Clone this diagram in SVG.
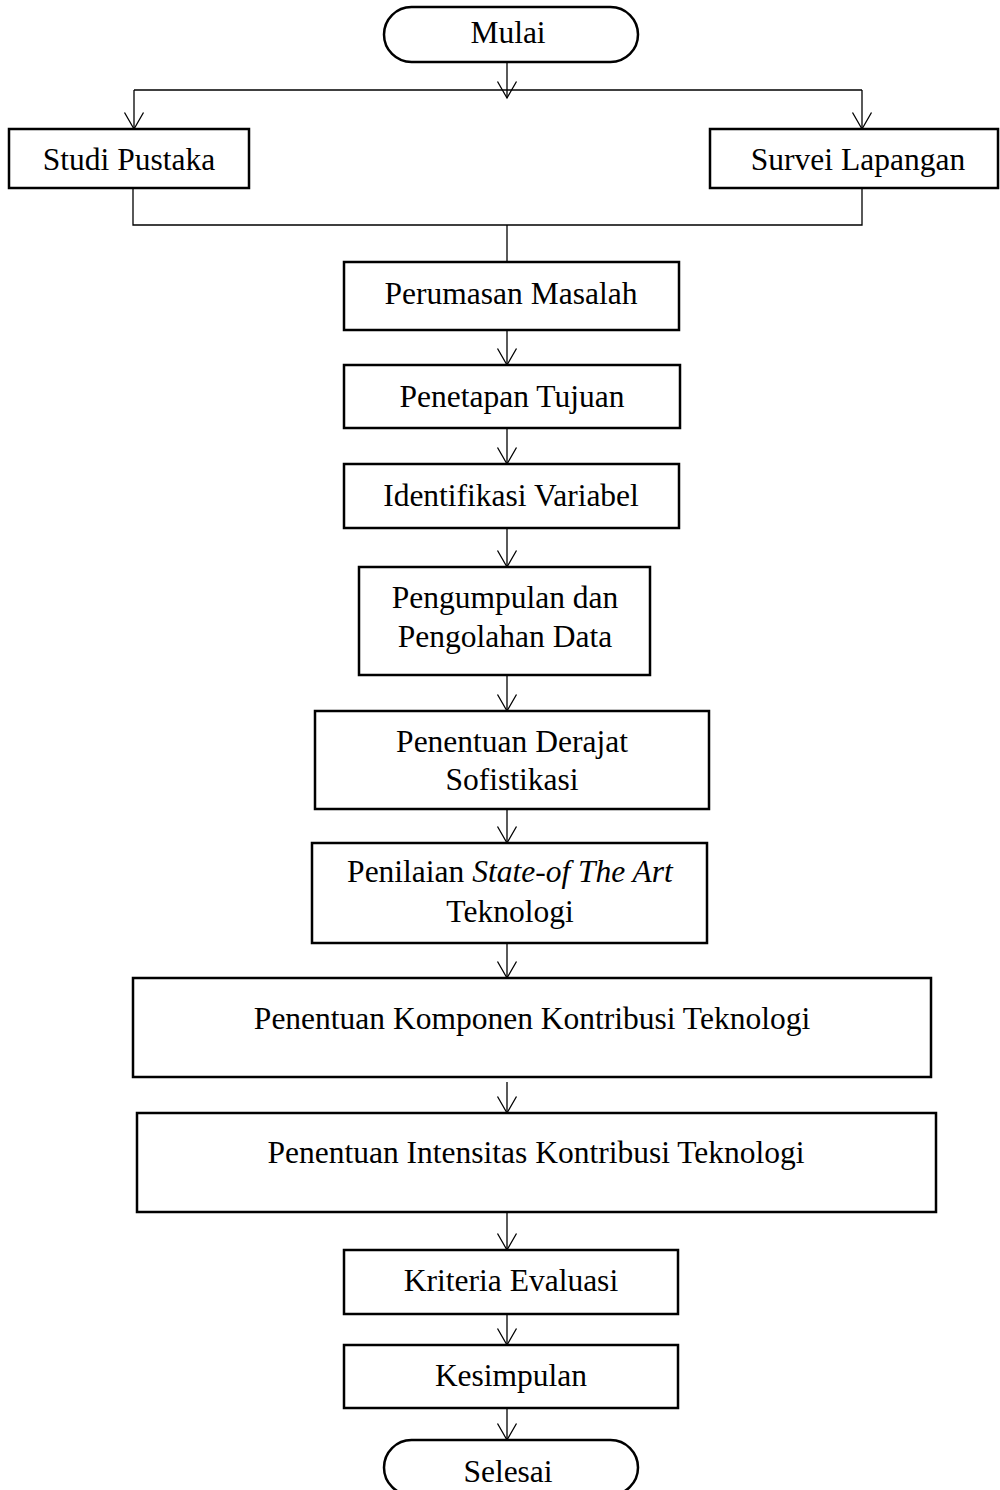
<svg xmlns="http://www.w3.org/2000/svg" width="1000" height="1490" viewBox="0 0 1000 1490">
<style>
.box{fill:#fff;stroke:#000;stroke-width:2.5}
.t{font-family:"Liberation Serif","Times New Roman",serif;font-size:31.5px;fill:#000;text-anchor:middle}
.c{fill:none;stroke:#000;stroke-width:1.3}
.a{fill:none;stroke:#000;stroke-width:1.3;marker-end:url(#arr)}
</style>
<defs>
<marker id="arr" markerUnits="userSpaceOnUse" markerWidth="22" markerHeight="24" viewBox="-2 -2 22 24" refX="16.5" refY="9.5" orient="auto">
<path d="M0,0 L16.5,9.5 L0,19" fill="none" stroke="#000" stroke-width="1.3"/>
</marker>
</defs>
<rect width="1000" height="1490" fill="#fff"/>
<g id="connectors">
<path class="a" d="M507,62 V98"/>
<path class="c" d="M134,90 H862"/>
<path class="a" d="M134,90 V129"/>
<path class="a" d="M862,90 V129"/>
<path class="c" d="M133,188 V225 H862 V188"/>
<path class="c" d="M507,225 V262"/>
<path class="a" d="M507,330 V365"/>
<path class="a" d="M507,428 V464"/>
<path class="a" d="M507,528 V567"/>
<path class="a" d="M507,675 V711"/>
<path class="a" d="M507,809 V843"/>
<path class="a" d="M507,943 V978"/>
<path class="a" d="M507,1082 V1113"/>
<path class="a" d="M507,1212 V1250"/>
<path class="a" d="M507,1308 V1345"/>
<path class="a" d="M507,1405 V1440"/>
</g>
<g id="mulai">
<rect class="box" x="384" y="7" width="254" height="55" rx="27.5"/>
<text class="t" x="508" y="43">Mulai</text>
</g>
<g id="studi-pustaka">
<rect class="box" x="9" y="129" width="240" height="59"/>
<text class="t" x="129" y="170">Studi Pustaka</text>
</g>
<g id="survei-lapangan">
<rect class="box" x="710" y="129" width="288" height="59"/>
<text class="t" x="858" y="170">Survei Lapangan</text>
</g>
<g id="perumasan-masalah">
<rect class="box" x="344" y="262" width="335" height="68"/>
<text class="t" x="511" y="304">Perumasan Masalah</text>
</g>
<g id="penetapan-tujuan">
<rect class="box" x="344" y="365" width="336" height="63"/>
<text class="t" x="512" y="407">Penetapan Tujuan</text>
</g>
<g id="identifikasi-variabel">
<rect class="box" x="344" y="464" width="335" height="64"/>
<text class="t" x="511" y="506">Identifikasi Variabel</text>
</g>
<g id="pengumpulan-data">
<rect class="box" x="359" y="567" width="291" height="108"/>
<text class="t" x="505" y="608">Pengumpulan dan</text>
<text class="t" x="505" y="647">Pengolahan Data</text>
</g>
<g id="derajat-sofistikasi">
<rect class="box" x="315" y="711" width="394" height="98"/>
<text class="t" x="512" y="752">Penentuan Derajat</text>
<text class="t" x="512" y="790">Sofistikasi</text>
</g>
<g id="state-of-the-art">
<rect class="box" x="312" y="843" width="395" height="100"/>
<text class="t" x="510" y="882">Penilaian <tspan font-style="italic">State-of The Art</tspan></text>
<text class="t" x="510" y="922">Teknologi</text>
</g>
<g id="komponen-kontribusi">
<rect class="box" x="133" y="978" width="798" height="99"/>
<text class="t" x="532" y="1029">Penentuan Komponen Kontribusi Teknologi</text>
</g>
<g id="intensitas-kontribusi">
<rect class="box" x="137" y="1113" width="799" height="99"/>
<text class="t" x="536" y="1163">Penentuan Intensitas Kontribusi Teknologi</text>
</g>
<g id="kriteria-evaluasi">
<rect class="box" x="344" y="1250" width="334" height="64"/>
<text class="t" x="511" y="1291">Kriteria Evaluasi</text>
</g>
<g id="kesimpulan">
<rect class="box" x="344" y="1345" width="334" height="63"/>
<text class="t" x="511" y="1386">Kesimpulan</text>
</g>
<g id="selesai">
<rect class="box" x="384" y="1440" width="254" height="55" rx="27.5"/>
<text class="t" x="508" y="1482">Selesai</text>
</g>
</svg>
